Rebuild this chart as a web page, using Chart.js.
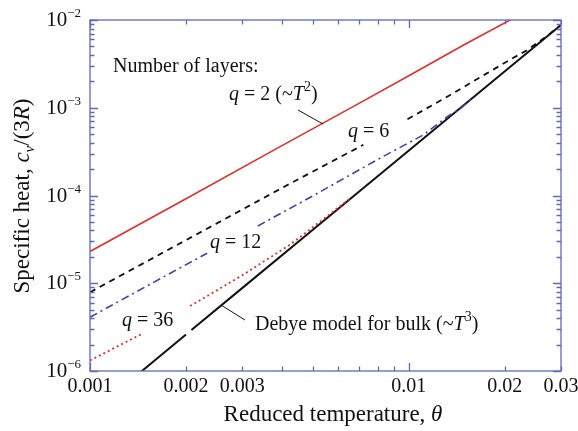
<!DOCTYPE html>
<html>
<head>
<meta charset="utf-8">
<script src="https://cdn.jsdelivr.net/npm/chart.js@4/dist/chart.umd.min.js"></script>
<style>
  body { margin: 0; background: #fff; }
  canvas { display: block; }
</style>
</head>
<body>
<canvas id="chart" width="578" height="431"></canvas>
<script>
// reduced temperature (theta) and specific heat c_v/(3R)
const q2Theta = [0.001, 0.002, 0.004, 0.007, 0.01, 0.015, 0.0212];
const q2Heat = [2.3e-5, 9.2e-5, 3.7e-4, 1.13e-3, 2.32e-3, 5.3e-3, 1.04e-2];

const q6Theta = [0.001, 0.002, 0.004, 0.0072, 0.0085, 0.0099, 0.0134, 0.0175, 0.0212, 0.0234, 0.027, 0.03];
const q6Heat = [7.9e-6, 3.1e-5, 1.22e-4, 3.78e-4, null, 7.4e-4, 1.38e-3, 2.45e-3, 3.68e-3, 4.5e-3, 6.5e-3, 8.8e-3];

const q12Theta = [0.001, 0.0017, 0.00233, 0.0028, 0.00336, 0.005, 0.0081, 0.0111, 0.0132, 0.0145, 0.016];
const q12Heat = [4.1e-6, 1.18e-5, 2.2e-5, null, 4.5e-5, 9.9e-5, 2.65e-4, 4.9e-4, 7.9e-4, 9.8e-4, 1.33e-3];

const q36Theta = [0.001, 0.0012, 0.00147, 0.0018, 0.00206, 0.0025, 0.003, 0.0036, 0.00424, 0.0054, 0.0065];
const q36Heat = [1.32e-6, 1.85e-6, 2.7e-6, null, 5.5e-6, 8.3e-6, 1.23e-5, 1.88e-5, 2.75e-5, 5.4e-5, 9.1e-5];

const debyeTheta = [0.0014, 0.002, 0.00204, 0.00208, 0.003, 0.005, 0.01, 0.02, 0.03];
const debyeHeat = [8.9e-7, 2.6e-6, null, 2.93e-6, 8.8e-6, 4.06e-5, 3.25e-4, 2.6e-3, 8.78e-3];

// axes
const xMin = 0.001, xMax = 0.03;
const yMin = 1e-6, yMax = 1e-2;
const xTickValues = [0.001, 0.002, 0.003, 0.01, 0.02, 0.03];
const xTickLabels = ['0.001', '0.002', '0.003', '0.01', '0.02', '0.03'];
const xMajorTicks = [0.001, 0.01];
const yTickValues = [1e-6, 1e-5, 1e-4, 1e-3, 1e-2];
const yTickExponents = ['\u22126', '\u22125', '\u22124', '\u22123', '\u22122'];

const SERIF = '"Liberation Serif", "DejaVu Serif", serif';
const AXIS_BLUE = '#6068bb';

function pairs(xs, ys) {
    return xs.map((x, i) => ({ x: x, y: ys[i] }));
}

// draw a row of text pieces: [text, font, dy]
function drawRuns(ctx, runs, x, y, align) {
    let w = 0;
    runs.forEach(r => { ctx.font = r[1]; w += ctx.measureText(r[0]).width; });
    let cx = align === 'center' ? x - w / 2 : (align === 'right' ? x - w : x);
    runs.forEach(r => {
        ctx.font = r[1];
        ctx.fillText(r[0], cx, y + (r[2] || 0));
        cx += ctx.measureText(r[0]).width;
    });
}

function minorTicks(min, max) {
    const out = [];
    for (let d = Math.floor(Math.log10(min)); d <= Math.ceil(Math.log10(max)); d++) {
        for (let m = 1; m < 10; m++) {
            const v = m * Math.pow(10, d);
            if (v >= min * 0.999 && v <= max * 1.001) out.push(v);
        }
    }
    return out;
}

const framePlugin = {
    id: 'frame',
    afterDatasetsDraw(chart) {
        const ctx = chart.ctx;
        const a = chart.chartArea;
        const xs = chart.scales.x, ys = chart.scales.y;
        ctx.save();
        ctx.strokeStyle = AXIS_BLUE;
        ctx.lineWidth = 1.3;
        ctx.strokeRect(a.left, a.top, a.right - a.left, a.bottom - a.top);

        // inward ticks on all four sides
        ctx.beginPath();
        minorTicks(xMin, xMax).forEach(v => {
            const px = Math.round(xs.getPixelForValue(v)) + 0.5;
            const len = xMajorTicks.includes(v) ? 8 : 4.5;
            ctx.moveTo(px, a.bottom); ctx.lineTo(px, a.bottom - len);
            ctx.moveTo(px, a.top); ctx.lineTo(px, a.top + len);
        });
        minorTicks(yMin, yMax).forEach(v => {
            const py = Math.round(ys.getPixelForValue(v)) + 0.5;
            const len = yTickValues.some(t => Math.abs(t - v) / t < 1e-6) ? 8 : 4.5;
            ctx.moveTo(a.left, py); ctx.lineTo(a.left + len, py);
            ctx.moveTo(a.right, py); ctx.lineTo(a.right - len, py);
        });
        ctx.stroke();

        ctx.fillStyle = '#111';
        ctx.textBaseline = 'alphabetic';
        // x tick labels
        xTickValues.forEach((v, i) => {
            ctx.font = '20px ' + SERIF;
            ctx.textAlign = 'center';
            ctx.fillText(xTickLabels[i], xs.getPixelForValue(v), a.bottom + 21);
        });
        ctx.textAlign = 'left';
        // y tick labels 10^n
        yTickValues.forEach((v, i) => {
            const py = ys.getPixelForValue(v);
            drawRuns(ctx, [['10', '21px ' + SERIF, 0], [yTickExponents[i], '13px ' + SERIF, -9]],
                a.left - 9, py + 6, 'right');
        });

        // axis titles
        drawRuns(ctx, [['Reduced temperature, ', '23px ' + SERIF, 0], ['\u03b8', 'italic 23px ' + SERIF, 0]],
            333, 421, 'center');
        ctx.save();
        ctx.translate(29, 196);
        ctx.rotate(-Math.PI / 2);
        drawRuns(ctx, [
            ['Specific heat, ', '23px ' + SERIF, 0],
            ['c', 'italic 23px ' + SERIF, 0],
            ['v', 'italic 15px ' + SERIF, 5],
            ['/(3', '23px ' + SERIF, 0],
            ['R', 'italic 23px ' + SERIF, 0],
            [')', '23px ' + SERIF, 0]
        ], 0, 0, 'center');
        ctx.restore();

        // annotations
        const f = '20px ' + SERIF, fi = 'italic 20px ' + SERIF, fs = '14px ' + SERIF;
        drawRuns(ctx, [['Number of layers:', f, 0]], 113, 72, 'left');
        drawRuns(ctx, [['q', fi, 0], [' = 2 (~', f, 0], ['T', fi, 0], ['2', fs, -9], [')', f, 0]], 229, 100, 'left');
        drawRuns(ctx, [['q', fi, 0], [' = 6', f, 0]], 348, 137, 'left');
        drawRuns(ctx, [['q', fi, 0], [' = 12', f, 0]], 210, 248, 'left');
        drawRuns(ctx, [['q', fi, 0], [' = 36', f, 0]], 122, 326, 'left');
        drawRuns(ctx, [['Debye model for bulk (~', f, 0], ['T', fi, 0], ['3', fs, -9], [')', f, 0]], 255, 330, 'left');

        // leader lines
        ctx.strokeStyle = '#111';
        ctx.lineWidth = 1;
        ctx.beginPath();
        ctx.moveTo(298, 110); ctx.lineTo(323, 124);
        ctx.moveTo(221, 305); ctx.lineTo(245, 320);
        ctx.stroke();
        ctx.restore();
    }
};

new Chart(document.getElementById('chart'), {
    type: 'line',
    data: {
        datasets: [
            { label: 'q = 36', data: pairs(q36Theta, q36Heat), borderColor: '#e0302a', borderWidth: 1.8, borderDash: [2, 3] },
            { label: 'q = 12', data: pairs(q12Theta, q12Heat), borderColor: '#3a44a6', borderWidth: 1.6, borderDash: [8, 4, 2, 4] },
            { label: 'q = 6', data: pairs(q6Theta, q6Heat), borderColor: '#111', borderWidth: 1.8, borderDash: [6, 5] },
            { label: 'q = 2', data: pairs(q2Theta, q2Heat), borderColor: '#e0302a', borderWidth: 1.6 },
            { label: 'Debye', data: pairs(debyeTheta, debyeHeat), borderColor: '#111', borderWidth: 2 }
        ]
    },
    options: {
        responsive: false,
        animation: false,
        spanGaps: false,
        layout: { padding: { left: 90, top: 20, right: 17, bottom: 60 } },
        elements: { point: { radius: 0 }, line: { tension: 0, fill: false } },
        scales: {
            x: { type: 'logarithmic', min: xMin, max: xMax, display: false },
            y: { type: 'logarithmic', min: yMin, max: yMax, display: false }
        },
        plugins: { legend: { display: false }, tooltip: { enabled: false } }
    },
    plugins: [framePlugin]
});
</script>
</body>
</html>
